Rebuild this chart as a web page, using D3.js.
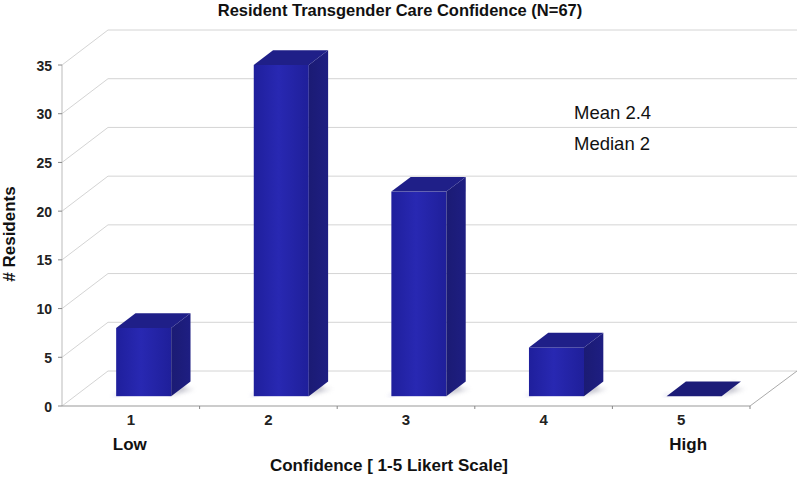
<!DOCTYPE html>
<html><head><meta charset="utf-8">
<script src="https://cdn.jsdelivr.net/npm/d3@7"></script>
<style>body{margin:0;background:#fff}svg{display:block}</style>
</head><body>
<svg id="c" width="800" height="477"></svg>
<script>
const categories = ["1","2","3","4","5"];
const values = [7, 34, 21, 5, 0];
const yTicks = [0,5,10,15,20,25,30,35];
const title = "Resident Transgender Care Confidence (N=67)";
const xTitle = "Confidence [ 1-5 Likert Scale]";
const yTitle = "# Residents";
const endLabels = [{cat:"1", text:"Low"},{cat:"5", text:"High"}];
const notes = ["Mean 2.4","Median 2"];

const svg = d3.select("#c");
const font = "'Liberation Sans', Arial, sans-serif";
const D = {dx:46, dy:-35};           // depth vector of the plot box
const f0 = 0.28, df = 0.42;          // bar front depth & bar depth (fractions)

const x = d3.scaleBand().domain(categories).range([62, 750]).padding(0);
const y = d3.scaleLinear().domain([0, 35]).range([406, 65]);

const defs = svg.append("defs");
const gf = defs.append("linearGradient").attr("id","front").attr("x1","0").attr("x2","1").attr("y1","0").attr("y2","0");
gf.append("stop").attr("offset","0").attr("stop-color","#1f1f9c");
gf.append("stop").attr("offset","0.45").attr("stop-color","#2828b2");
gf.append("stop").attr("offset","1").attr("stop-color","#1f1f9a");
const gs = defs.append("linearGradient").attr("id","side").attr("x1","0").attr("x2","1");
gs.append("stop").attr("offset","0").attr("stop-color","#1b1b74");
gs.append("stop").attr("offset","1").attr("stop-color","#1e1e82");
defs.append("filter").attr("id","blur").attr("x","-50%").attr("y","-50%").attr("width","200%").attr("height","200%")
  .append("feGaussianBlur").attr("stdDeviation","2");

// back wall gridlines
const grid = svg.append("g");
yTicks.forEach(t => {
  const yy = y(t);
  grid.append("line").attr("x1",62).attr("y1",yy).attr("x2",62+D.dx).attr("y2",yy+D.dy)
    .attr("stroke","#d4d4d4").attr("stroke-width",1);
  grid.append("line").attr("x1",62+D.dx).attr("y1",yy+D.dy).attr("x2",750+D.dx+1).attr("y2",yy+D.dy)
    .attr("stroke","#d4d4d4").attr("stroke-width",1);
});
// floor right edge
grid.append("line").attr("x1",750).attr("y1",y(0)).attr("x2",750+D.dx+1).attr("y2",y(0)+D.dy)
  .attr("stroke","#aaa");

// y axis
const yAxis = svg.append("g");
yAxis.append("line").attr("x1",62).attr("x2",62).attr("y1",y(0)).attr("y2",y(35)).attr("stroke","#bbb");
yTicks.forEach(t => {
  yAxis.append("line").attr("x1",58).attr("x2",62).attr("y1",y(t)).attr("y2",y(t)).attr("stroke","#888");
  yAxis.append("text").attr("x",52).attr("y",y(t)+5.5).attr("text-anchor","end")
    .attr("font-family",font).attr("font-weight","bold").attr("font-size",14).attr("fill","#222").text(t);
});

// x axis baseline & ticks
const xAxis = svg.append("g");
xAxis.append("line").attr("x1",62).attr("x2",750).attr("y1",y(0)).attr("y2",y(0)).attr("stroke","#999");
categories.forEach(c => {
  const xr = x(c)+x.bandwidth();
  xAxis.append("line").attr("x1",xr).attr("x2",xr).attr("y1",y(0)).attr("y2",y(0)+3).attr("stroke","#888");
  xAxis.append("text").attr("x",x(c)+x.bandwidth()/2).attr("y",424.5).attr("text-anchor","middle")
    .attr("font-family",font).attr("font-weight","bold").attr("font-size",15).attr("fill","#222").text(c);
});

// bars
const bars = svg.append("g");
const ddx = D.dx*df, ddy = D.dy*df;
categories.forEach((c,i) => {
  const v = values[i];
  const bw = x.bandwidth()*0.4;
  const x0 = x(c) + x.bandwidth()*0.3 + D.dx*f0;
  const x1 = x0 + bw;
  const yb = y(0) + D.dy*f0;
  const yt = y(v) + D.dy*f0;
  // shadow on floor
  bars.append("polygon")
    .attr("points",[[x1-2,yb],[x1+ddx*0.5+14,yb+ddy*0.5],[x1+ddx*0.5+4,yb+ddy*0.5],[x1+ddx-6,yb+ddy]].join(" "))
    .attr("fill","#b8b8c4").attr("filter","url(#blur)").attr("opacity",0.8);
  bars.append("polygon")
    .attr("points",[[x0-4,yb],[x0+2,yb-3],[x0+2,yb]].join(" "))
    .attr("fill","#b8b8e0").attr("filter","url(#blur)").attr("opacity",0.7);
  if (v > 0) {
    bars.append("rect").attr("x",x0).attr("y",yt).attr("width",bw).attr("height",yb-yt).attr("fill","url(#front)");
    bars.append("polygon").attr("points",[[x1,yb],[x1+ddx,yb+ddy],[x1+ddx,yt+ddy],[x1,yt]].join(" "))
      .attr("fill","url(#side)");
  }
  bars.append("polygon").attr("points",[[x0,yt],[x0+ddx,yt+ddy],[x1+ddx,yt+ddy],[x1,yt]].join(" "))
    .attr("fill", v>0 ? "#1f1f88" : "#1c1c78");
});

// titles
svg.append("text").attr("x",400).attr("y",16).attr("text-anchor","middle")
  .attr("font-family",font).attr("font-weight","bold").attr("font-size",16.5).attr("fill","#111").text(title);
svg.append("text").attr("x",389).attr("y",471).attr("text-anchor","middle")
  .attr("font-family",font).attr("font-weight","bold").attr("font-size",17).attr("fill","#111").text(xTitle);
svg.append("text").attr("transform","translate(15,234) rotate(-90)").attr("text-anchor","middle")
  .attr("font-family",font).attr("font-weight","bold").attr("font-size",17).attr("fill","#111").text(yTitle);
endLabels.forEach(d => {
  svg.append("text").attr("x",x(d.cat)+x.bandwidth()/2 + (d.cat==="5"?7:-1)).attr("y",450).attr("text-anchor","middle")
    .attr("font-family",font).attr("font-weight","bold").attr("font-size",17).attr("fill","#111").text(d.text);
});
notes.forEach((n,i) => {
  svg.append("text").attr("x",574).attr("y",119+i*31)
    .attr("font-family",font).attr("font-size",18.5).attr("fill","#111").text(n);
});
</script>
</body></html>
